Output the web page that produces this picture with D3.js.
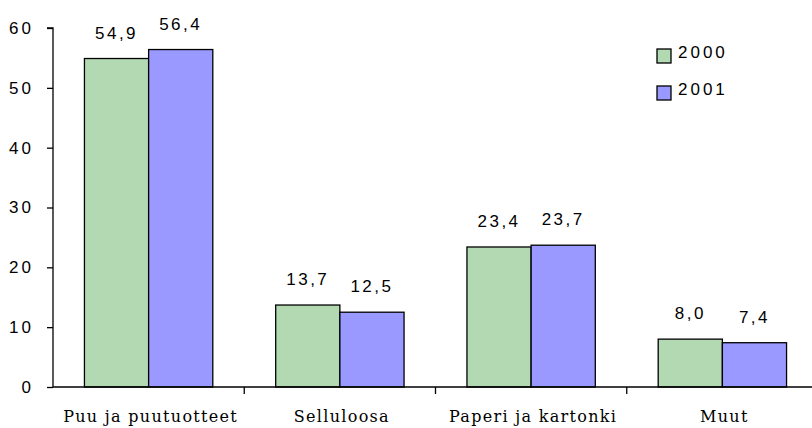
<!DOCTYPE html>
<html><head><meta charset="utf-8">
<script src="https://cdn.jsdelivr.net/npm/d3@7"></script>
<style>body{margin:0;background:#fff}svg{display:block}</style>
</head><body>
<svg id="chart" width="812" height="428"></svg>
<script>
const categories = ["Puu ja puutuotteet", "Selluloosa", "Paperi ja kartonki", "Muut"];
const seriesNames = ["2000", "2001"];
const values2000 = [54.9, 13.7, 23.4, 8.0];
const values2001 = [56.4, 12.5, 23.7, 7.4];
const yTicks = [0, 10, 20, 30, 40, 50, 60];
const colors = ["#B3D9B3", "#9999FF"];

(function () {
const svg = d3.select("#chart");
const pLeft = 53, pRight = 818, pTop = 28, pBottom = 387;
const x = d3.scaleBand().domain(categories).range([pLeft, pRight]).paddingInner(0).paddingOuter(0);
const x1 = d3.scaleBand().domain(seriesNames).range([0, x.bandwidth()]).paddingInner(0).paddingOuter(0.49);
const y = d3.scaleLinear().domain([0, 60]).range([pBottom, pTop]);
const numFont = "'Liberation Sans', Arial, sans-serif";
const labFont = "'DejaVu Serif', serif";

const series = [values2000, values2001];
series.forEach((vals, si) => {
  svg.append("g").selectAll("rect").data(vals).join("rect")
    .attr("x", (d, i) => x(categories[i]) + x1(seriesNames[si]))
    .attr("y", d => y(d))
    .attr("width", x1.bandwidth())
    .attr("height", d => y(0) - y(d))
    .attr("fill", colors[si])
    .attr("stroke", "#000").attr("stroke-width", 1.3);
  svg.append("g").selectAll("text").data(vals).join("text")
    .attr("x", (d, i) => x(categories[i]) + x1(seriesNames[si]) + x1.bandwidth() / 2)
    .attr("y", d => y(d) - 20)
    .attr("text-anchor", "middle")
    .attr("font-family", numFont).attr("font-size", 17).attr("letter-spacing", 2.5)
    .attr("fill", "#000")
    .text(d => d.toFixed(1).replace(".", ","));
});

const yAxis = d3.axisLeft(y).tickValues(yTicks).tickSize(6).tickPadding(13).tickFormat(d => d);
const gy = svg.append("g").attr("transform", `translate(${pLeft},0)`).call(yAxis);
gy.select(".domain").attr("stroke", "#000").attr("stroke-width", 1.3).attr("d", `M-6,${pTop}H0V${pBottom}`);
gy.selectAll(".tick line").attr("stroke", "#000").attr("stroke-width", 1.3);
gy.selectAll(".tick text").attr("font-family", numFont).attr("font-size", 17).attr("letter-spacing", 3).attr("fill", "#000");

const gx = svg.append("g").attr("transform", `translate(0,${pBottom})`);
gx.append("line").attr("x1", pLeft).attr("x2", pRight).attr("stroke", "#000").attr("stroke-width", 1.3);
const tickPos = categories.map(c => x(c)).concat([x(categories[categories.length - 1]) + x.bandwidth()]);
gx.selectAll("line.t").data(tickPos.slice(1)).join("line").attr("class", "t")
  .attr("x1", d => d).attr("x2", d => d).attr("y1", 0).attr("y2", 7)
  .attr("stroke", "#000").attr("stroke-width", 1.3);
gx.selectAll("text").data(categories).join("text")
  .attr("x", d => x(d) + x.bandwidth() / 2 + 2)
  .attr("y", 35)
  .attr("text-anchor", "middle")
  .style("font-family", labFont)
  .attr("font-size", 16).attr("letter-spacing", 1.3)
  .attr("fill", "#000")
  .text(d => d);

const lg = svg.append("g").attr("transform", "translate(657,49)");
seriesNames.forEach((s, i) => {
  lg.append("rect").attr("x", 0).attr("y", i * 37).attr("width", 14).attr("height", 14)
    .attr("fill", colors[i]).attr("stroke", "#000").attr("stroke-width", 1.3);
  lg.append("text").attr("x", 21).attr("y", i * 37 + 9)
    .attr("font-family", numFont).attr("font-size", 17).attr("letter-spacing", 3)
    .attr("fill", "#000").text(s);
});
})();
</script>
</body></html>
